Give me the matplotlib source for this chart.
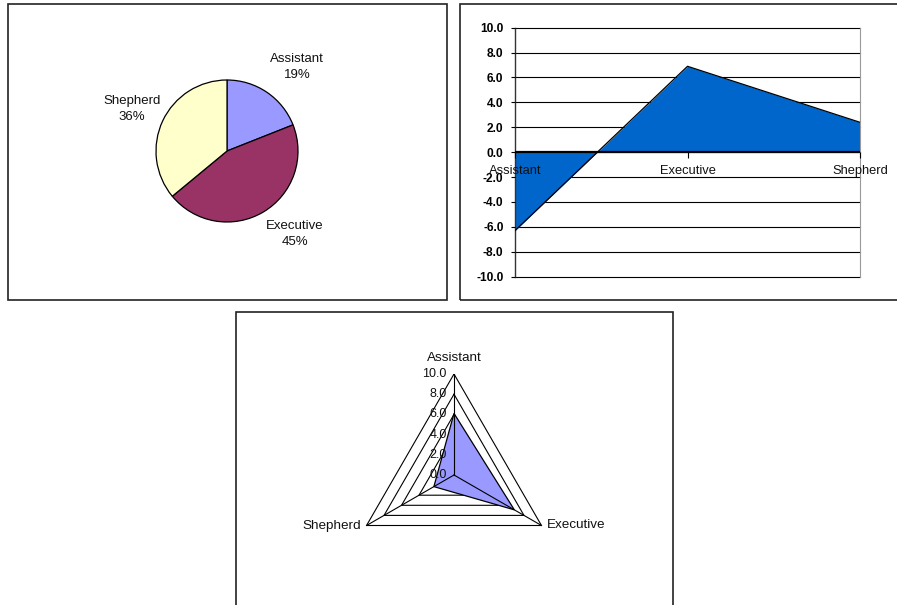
import numpy as np
import matplotlib
matplotlib.use('Agg')
import matplotlib.pyplot as plt
from matplotlib.patches import Rectangle

plt.rcParams['font.family'] = ['Liberation Sans', 'DejaVu Sans']

# data
categories = ['Assistant', 'Executive', 'Shepherd']
pie_share = [19, 45, 36]
pie_colors = ['#9999FF', '#993366', '#FFFFCC']
area_values = [-6.3, 6.9, 2.4]
radar_values = [6.1, 6.9, 2.3]
y_ticks = [-10, -8, -6, -4, -2, 0, 2, 4, 6, 8, 10]
radar_rings = [0, 2, 4, 6, 8, 10]

W, H = 897, 605
fig = plt.figure(figsize=(W / 100, H / 100), dpi=100)


def px_rect(x0, y0, x1, y1):
    # pixel box (top-left origin) -> figure fraction rect
    return [x0 / W, 1 - y1 / H, (x1 - x0) / W, (y1 - y0) / H]


# panel frames
for x0, y0, x1, y1 in [(8, 4, 447, 300), (460, 4, 898, 300), (236, 312, 673, 606)]:
    fig.patches.append(Rectangle((x0 / W, 1 - y1 / H), (x1 - x0) / W, (y1 - y0) / H,
                                 transform=fig.transFigure, fill=False,
                                 edgecolor='#222222', linewidth=1.2))

# --- pie ---
ax1 = fig.add_axes(px_rect(156, 80, 298, 222))
wedges, texts = ax1.pie(pie_share, colors=pie_colors, startangle=90, counterclock=False,
                        labels=[f'{c}\n{p}%' for c, p in zip(categories, pie_share)],
                        wedgeprops=dict(edgecolor='black', linewidth=0.9),
                        textprops=dict(fontsize=9.5, color='#111111', linespacing=1.45))
label_pos = [(0.99, 1.18), (0.96, -1.17), (-1.34, 0.59)]
for t, (lx, ly) in zip(texts, label_pos):
    t.set_position((lx, ly))
    t.set_ha('center')
    t.set_va('center')
ax1.set_xlim(-1, 1)
ax1.set_ylim(-1, 1)

# --- area ---
ax2 = fig.add_axes(px_rect(515, 27.7, 860, 276.7))
x = np.arange(len(categories))
ax2.fill_between(x, area_values, 0, color='#0066CC', linewidth=0, zorder=2)
ax2.plot(x, area_values, color='black', linewidth=0.9, zorder=3)
ax2.set_xlim(0, 2)
ax2.set_ylim(-10, 10)
ax2.set_yticks(y_ticks)
ax2.set_yticklabels([f'{v:.1f}' for v in y_ticks], fontsize=8.6, fontweight='bold')
for v in y_ticks:
    ax2.axhline(v, color='black', linewidth=0.8, zorder=1, clip_on=False)
ax2.axhline(0, color='black', linewidth=1.6, zorder=4)
ax2.spines['bottom'].set_position(('data', 0))
ax2.spines['bottom'].set_visible(False)
ax2.spines['top'].set_visible(False)
ax2.spines['right'].set_color('#999999')
ax2.spines['left'].set_color('#333333')
ax2.spines['left'].set_linewidth(1.0)
ax2.set_xticks(x)
ax2.set_xticklabels(categories, fontsize=9.3, color='#111111')
ax2.tick_params(axis='x', direction='out', length=4, width=0.8, pad=5.5)
ax2.tick_params(axis='y', direction='out', length=3.2, width=0.8, pad=5)
ax2.xaxis.set_zorder(6)
ax2.yaxis.set_zorder(6)

# --- radar ---
ax3 = fig.add_axes(px_rect(353, 374, 555, 576))
ang = np.deg2rad(90 - 120 * np.arange(len(categories)))
ang_c = np.append(ang, ang[0])
for r in radar_rings[1:]:
    ax3.plot(r * np.cos(ang_c), r * np.sin(ang_c), color='black', linewidth=0.8, zorder=1)
rv = np.append(radar_values, radar_values[0])
ax3.fill(rv * np.cos(ang_c), rv * np.sin(ang_c), facecolor='#9999FF',
         edgecolor='black', linewidth=0.9, zorder=2)
for a in ang:
    ax3.plot([0, 10 * np.cos(a)], [0, 10 * np.sin(a)], color='black', linewidth=0.8, zorder=3)
for r in radar_rings:
    ax3.text(-0.7, r, f'{r:.1f}', ha='right', va='center', fontsize=9, color='#111111', zorder=4)
ax3.text(0, 11.0, categories[0], ha='center', va='bottom', fontsize=9.7, color='#111111')
ax3.text(10 * np.cos(ang[1]) + 0.5, 10 * np.sin(ang[1]), categories[1], ha='left',
         va='center', fontsize=9.7, color='#111111')
ax3.text(10 * np.cos(ang[2]) - 0.5, 10 * np.sin(ang[2]), categories[2], ha='right',
         va='center', fontsize=9.7, color='#111111')
ax3.set_xlim(-10, 10)
ax3.set_ylim(-10, 10)
ax3.axis('off')

fig.savefig('out.png', dpi=100)
